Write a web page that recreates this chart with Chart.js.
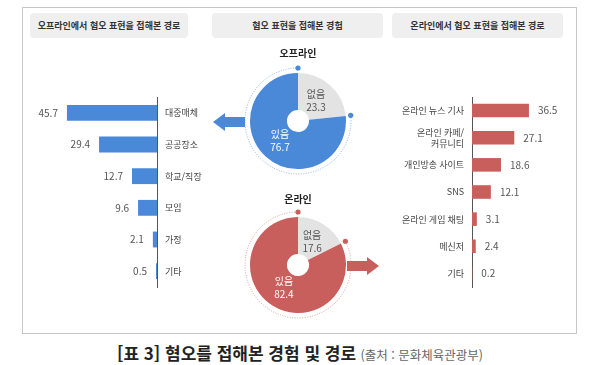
<!DOCTYPE html>
<html lang="ko">
<head>
<meta charset="utf-8">
<script src="https://cdn.jsdelivr.net/npm/chart.js@4.4.1/dist/chart.umd.min.js"></script>
<style>
  html, body { margin: 0; padding: 0; background: #fff; }
  body { width: 600px; height: 365px; position: relative; overflow: hidden; font-family: "Noto Sans CJK KR", "Noto Sans", sans-serif; }
  .frame { position: absolute; left: 22px; top: 7px; width: 553px; height: 325px; border: 1px solid #c6c6c6; }
  .head { position: absolute; top: 13px; height: 25px; line-height: 25px; background: #efefef; border-radius: 4px; text-align: center; font-size: 9px; font-weight: 700; color: #333; }
  .sub { position: absolute; left: 233px; width: 130px; text-align: center; font-size: 10px; font-weight: 700; color: #222; }
  canvas { position: absolute; }
  .arrow { position: absolute; width: 32px; height: 18px; }
  .caption { position: absolute; left: 0; width: 600px; top: 340px; text-align: center; color: #222; white-space: nowrap; }
  .caption b { font-size: 17px; font-weight: 700; }
  .caption span { font-size: 12.5px; color: #666; }
</style>
</head>
<body>
<div class="frame"></div>
<div class="head" style="left:30px;width:158px">오프라인에서 혐오 표현을 접해본 경로</div>
<div class="head" style="left:212px;width:171px">혐오 표현을 접해본 경험</div>
<div class="head" style="left:392px;width:171px">온라인에서 혐오 표현을 접해본 경로</div>

<canvas id="offBars" width="190" height="205" style="left:22px;top:90px"></canvas>
<canvas id="onBars" width="185" height="205" style="left:392px;top:90px"></canvas>
<canvas id="offPie" width="130" height="130" style="left:233px;top:56px"></canvas>
<canvas id="onPie" width="130" height="130" style="left:233px;top:200px"></canvas>

<div class="sub" style="top:45px">오프라인</div>
<div class="sub" style="top:191px">온라인</div>

<div class="arrow" style="left:213px;top:113px;background:#4a88d8;clip-path:polygon(0 9px,12px 0,12px 4px,32px 4px,32px 14px,12px 14px,12px 18px)"></div>
<div class="arrow" style="left:347px;top:257px;background:#c95f5c;clip-path:polygon(0 4px,20px 4px,20px 0,32px 9px,20px 18px,20px 14px,0 14px)"></div>

<div class="caption"><b>[표 3] 혐오를 접해본 경험 및 경로</b> <span>(출처 : 문화체육관광부)</span></div>

<script>
const offlineRoutes = ["대중매체", "공공장소", "학교/직장", "모임", "가정", "기타"];
const offlineRouteValues = [45.7, 29.4, 12.7, 9.6, 2.1, 0.5];

const onlineRoutes = ["온라인 뉴스 기사", ["온라인 카페/", "커뮤니티"], "개인방송 사이트", "SNS", "온라인 게임 채팅", "메신저", "기타"];
const onlineRouteValues = [36.5, 27.1, 18.6, 12.1, 3.1, 2.4, 0.2];

const expLabels = ["없음", "있음"];
const offlineExp = [23.3, 76.7];
const onlineExp = [17.6, 82.4];

const BLUE = "#4a88d8";
const RED = "#c95f5c";
const GREY = "#e3e3e3";
const FONT = '"Noto Sans CJK KR", "Noto Sans", sans-serif';

Chart.defaults.font.family = FONT;
Chart.defaults.animation = false;

const barValueLabels = {
  id: "barValueLabels",
  afterDatasetsDraw(chart, args, opts) {
    const ctx = chart.ctx;
    const meta = chart.getDatasetMeta(0);
    ctx.save();
    ctx.font = "10px " + FONT;
    ctx.fillStyle = "#555";
    ctx.textBaseline = "middle";
    meta.data.forEach((bar, i) => {
      const v = chart.data.datasets[0].data[i];
      if (opts.side === "left") {
        ctx.textAlign = "right";
        ctx.fillText(v.toFixed(1), bar.x - 9, bar.y);
      } else {
        ctx.textAlign = "left";
        ctx.fillText(v.toFixed(1), bar.x + 9, bar.y);
      }
    });
    ctx.restore();
  },
};

function barChart(id, labels, values, color, side, max, axisWidth) {
  return new Chart(document.getElementById(id), {
    type: "bar",
    data: { labels, datasets: [{ data: values, backgroundColor: color, barPercentage: 0.5, categoryPercentage: 1 }] },
    options: {
      responsive: false,
      indexAxis: "y",
      layout: { padding: { top: 7, bottom: 8, left: 0, right: 0 } },
      plugins: { legend: { display: false }, tooltip: { enabled: false }, barValueLabels: { side } },
      scales: {
        x: { display: false, reverse: side === "left", min: 0, max },
        y: {
          position: side === "left" ? "right" : "left",
          grid: { display: false, drawTicks: false },
          border: { display: true, color: "#555", width: 1 },
          ticks: { padding: 8, color: "#444", font: { size: 9 } },
          afterFit: (s) => {
            s.width = axisWidth;
            s.paddingTop = 0;
            s.paddingBottom = 0;
          },
        },
      },
    },
    plugins: [barValueLabels],
  });
}

barChart("offBars", offlineRoutes, offlineRouteValues, BLUE, "left", 68.5, 55);
barChart("onBars", onlineRoutes, onlineRouteValues, RED, "right", 67.3, 80);

const pieDecor = {
  id: "pieDecor",
  afterDatasetsDraw(chart, args, opts) {
    const ctx = chart.ctx;
    const meta = chart.getDatasetMeta(0);
    const ds = chart.data.datasets[0];
    const yes = meta.data[1];
    ctx.save();
    // dotted ring around the "있음" slice
    ctx.strokeStyle = opts.ring;
    ctx.lineWidth = 1;
    ctx.setLineDash([1, 1.5]);
    ctx.beginPath();
    ctx.arc(yes.x, yes.y, yes.outerRadius + 5, yes.startAngle, yes.endAngle);
    ctx.stroke();
    ctx.setLineDash([]);
    ctx.fillStyle = opts.color;
    [yes.startAngle, yes.endAngle].forEach((a) => {
      ctx.beginPath();
      ctx.arc(yes.x + Math.cos(a) * (yes.outerRadius + 5), yes.y + Math.sin(a) * (yes.outerRadius + 5), 2.6, 0, Math.PI * 2);
      ctx.fill();
    });
    // slice labels
    ctx.font = "10px " + FONT;
    ctx.textAlign = "center";
    ctx.textBaseline = "middle";
    meta.data.forEach((arc, i) => {
      const mid = (arc.startAngle + arc.endAngle) / 2;
      const r = arc.outerRadius * 0.56;
      const x = arc.x + Math.cos(mid) * r;
      const y = arc.y + Math.sin(mid) * r;
      ctx.fillStyle = i === 0 ? "#555" : "#fff";
      ctx.fillText(chart.data.labels[i], x, y - 6.5);
      ctx.fillText(ds.data[i].toFixed(1), x, y + 6.5);
    });
    ctx.restore();
  },
};

function pieChart(id, values, color, ring) {
  return new Chart(document.getElementById(id), {
    type: "doughnut",
    data: { labels: expLabels, datasets: [{ data: values, backgroundColor: [GREY, color], borderWidth: 0 }] },
    options: {
      responsive: false,
      cutout: "23%",
      layout: { padding: 17 },
      plugins: { legend: { display: false }, tooltip: { enabled: false }, pieDecor: { color, ring } },
    },
    plugins: [pieDecor],
  });
}

pieChart("offPie", offlineExp, BLUE, "#8fb2e2");
pieChart("onPie", onlineExp, RED, "#d99a98");
</script>
</body>
</html>
